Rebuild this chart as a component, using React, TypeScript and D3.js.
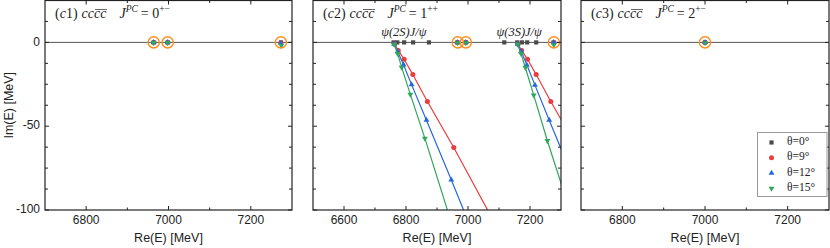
import { useEffect, useRef } from "react";
import * as d3 from "d3";

type Pt = [number, number];

// ── Legend / series styling keys ───────────────────────────────
const thetaLabels = ["θ=0°", "θ=9°", "θ=12°", "θ=15°"];
const thetaColors = ["#4a4a4a", "#ee3b3b", "#2468de", "#2fa65a"];
const thetaShapes = ["square", "circle", "triangle", "triangleDown"];

// ── Panel headers ──────────────────────────────────────────────
const panelTags = ["c1", "c2", "c3"];
const panelJ = ["0", "1", "2"];
const panelPC = ["+−", "++", "+−"];
const panelXDomains: [number, number][] = [[6700, 7300], [6500, 7300], [6700, 7300]];
const panelXTicks = [[6800, 7000, 7200], [6600, 6800, 7000, 7200], [6800, 7000, 7200]];
const yTickLabels = [0, -50, -100];

// ── (c1) 0^{+-} ────────────────────────────────────────────────
const c1Theta0: Pt[] = [[6964, 0], [6998, 0], [7273, 0]];
const c1Theta9: Pt[] = [[6964, 0], [6998, 0], [7273, -0.3]];
const c1Theta12: Pt[] = [[6964, 0], [6998, 0], [7273, -0.6]];
const c1Theta15: Pt[] = [[6964, -0.2], [6998, -0.2], [7274, -1.8]];
const c1Bound = [6964, 6998, 7273];

// ── (c2) 1^{++} ────────────────────────────────────────────────
const c2Theta0: Pt[] = [
  [6760, 0], [6772, 0], [6794, 0], [6823, 0], [6874, 0], [6966, 0], [6993, 0],
  [7117, 0], [7159, 0], [7174, 0], [7191, 0], [7220, 0], [7276, 0],
];
const c2Bound9: Pt[] = [[6966, 0], [6993, 0], [7277, 0]];
const c2Theta9A: Pt[] = [[6763, -1], [6775, -4.8], [6794, -10.1], [6822, -19.2], [6869, -35.3], [6954, -62.7], [7075, -104]];
const c2Theta9B: Pt[] = [[7161, -1], [7173, -4.8], [7192, -10.1], [7220, -19.2], [7267, -35.3], [7352, -62.7]];
const c2Bound12: Pt[] = [[6966, 0], [6993, 0], [7277, 0]];
const c2Theta12A: Pt[] = [[6762, -1], [6773, -5.5], [6792, -13.3], [6818, -25.2], [6866, -46.4], [6946, -82], [7061, -134]];
const c2Theta12B: Pt[] = [[7160, -1], [7172, -5.5], [7190, -13.5], [7216, -25.5], [7262, -46.4], [7344, -83]];
const c2Bound15: Pt[] = [[6966, -0.3], [6993, -0.3], [7277, -1.5]];
const c2Theta15A: Pt[] = [[6762, -1.2], [6773, -6.7], [6786, -14.9], [6814, -31], [6861, -57.3], [6937, -102]];
const c2Theta15B: Pt[] = [[7160, -1.2], [7171, -6.7], [7185, -15], [7212, -31.5], [7256, -58.7], [7335, -104]];
const c2Bound = [6967, 6993, 7277];
const c2ThresholdLabelRe = [6793, 7165];
const c2ThresholdLabels = ["ψ(2S)J/ψ", "ψ(3S)J/ψ"];

// ── (c3) 2^{+-} ────────────────────────────────────────────────
const c3Theta0: Pt[] = [[7000, 0]];
const c3Theta9: Pt[] = [[7000, 0]];
const c3Theta12: Pt[] = [[7000, 0]];
const c3Theta15: Pt[] = [[7000, -0.3]];
const c3Bound = [7000];

type Series = { points: Pt[]; lines: Pt[][] };

const panelSeries: Series[][] = [
  [
    { points: c1Theta0, lines: [] },
    { points: c1Theta9, lines: [] },
    { points: c1Theta12, lines: [] },
    { points: c1Theta15, lines: [] },
  ],
  [
    { points: c2Theta0, lines: [] },
    { points: [...c2Bound9, ...c2Theta9A, ...c2Theta9B], lines: [c2Theta9A, c2Theta9B] },
    { points: [...c2Bound12, ...c2Theta12A, ...c2Theta12B], lines: [c2Theta12A, c2Theta12B] },
    { points: [...c2Bound15, ...c2Theta15A, ...c2Theta15B], lines: [c2Theta15A, c2Theta15B] },
  ],
  [
    { points: c3Theta0, lines: [] },
    { points: c3Theta9, lines: [] },
    { points: c3Theta12, lines: [] },
    { points: c3Theta15, lines: [] },
  ],
];
const panelBound = [c1Bound, c2Bound, c3Bound];

export default function App() {
  const svgRef = useRef<SVGSVGElement>(null);

  useEffect(() => {
    if (!svgRef.current) return;
    const svg = d3.select(svgRef.current);
    svg.selectAll("*").remove();

    // ── Layout ──────────────────────────────────────────────────
    const lefts = [45, 313, 581];
    const rights = [292, 561, 829];
    const top = 0.5;
    const bottom = 210;
    const sans = "'Liberation Sans', Arial, sans-serif";
    const serif = "'Liberation Serif', 'Times New Roman', serif";

    const yScale = d3.scaleLinear().domain([-100, 25]).range([bottom, top]);

    const drawMarker = (
      g: d3.Selection<SVGGElement, unknown, null, undefined>,
      shape: string, x: number, y: number, color: string
    ) => {
      if (shape === "square") {
        g.append("rect").attr("x", x - 2.1).attr("y", y - 2.1)
          .attr("width", 4.2).attr("height", 4.2).attr("fill", color);
      } else if (shape === "circle") {
        g.append("circle").attr("cx", x).attr("cy", y).attr("r", 2.5).attr("fill", color);
      } else {
        const sym = d3.symbol().type(d3.symbolTriangle).size(15)();
        g.append("path").attr("d", sym)
          .attr("transform", `translate(${x},${y})${shape === "triangleDown" ? " rotate(180)" : ""}`)
          .attr("fill", color);
      }
    };

    panelSeries.forEach((series, pi) => {
      const left = lefts[pi];
      const right = rights[pi];
      const [x0, x1] = panelXDomains[pi];
      const xScale = d3.scaleLinear().domain([x0, x1]).range([left, right]);
      const g = svg.append("g");

      const clipId = `clip-${pi}`;
      svg.append("clipPath").attr("id", clipId)
        .append("rect").attr("x", left).attr("y", top)
        .attr("width", right - left).attr("height", bottom - top);

      // zero line
      g.append("line")
        .attr("x1", left).attr("x2", right)
        .attr("y1", yScale(0)).attr("y2", yScale(0))
        .attr("stroke", "#555").attr("stroke-width", 1);

      // series
      const plot = g.append("g");
      const lineGen = d3.line<Pt>().x((d) => xScale(d[0])).y((d) => yScale(d[1]));
      series.forEach((s, ti) => {
        s.lines.forEach((ln) => {
          plot.append("path").attr("d", lineGen(ln))
            .attr("fill", "none").attr("stroke", thetaColors[ti])
            .attr("stroke-width", 1.2).attr("clip-path", `url(#${clipId})`);
        });
        s.points.forEach((p) => {
          if (p[0] < x0 || p[0] > x1 || p[1] < -100 || p[1] > 25) return;
          drawMarker(plot, thetaShapes[ti], xScale(p[0]), yScale(p[1]), thetaColors[ti]);
        });
      });

      // bound states
      panelBound[pi].forEach((re) => {
        g.append("circle").attr("cx", xScale(re)).attr("cy", yScale(0)).attr("r", 5.6)
          .attr("fill", "none").attr("stroke", "#ff8c1a").attr("stroke-width", 1.4);
      });

      // threshold labels
      if (pi === 1) {
        c2ThresholdLabelRe.forEach((re, i) => {
          g.append("text").attr("x", xScale(re)).attr("y", 36)
            .attr("text-anchor", "middle").attr("font-family", serif)
            .attr("font-style", "italic").attr("font-size", 12.5).attr("fill", "#222")
            .text(c2ThresholdLabels[i]);
        });
      }

      // frame
      g.append("rect").attr("x", left).attr("y", top)
        .attr("width", right - left).attr("height", bottom - top)
        .attr("fill", "none").attr("stroke", "#222").attr("stroke-width", 1.2);

      // x ticks (inward, top & bottom)
      const xMajor = panelXTicks[pi];
      const xMinor = d3.range(x0 + 100, x1, 100).filter((v) => !xMajor.includes(v));
      const xt = (v: number, len: number) => {
        const x = xScale(v);
        g.append("line").attr("x1", x).attr("x2", x).attr("y1", bottom).attr("y2", bottom - len)
          .attr("stroke", "#222").attr("stroke-width", 1);
        g.append("line").attr("x1", x).attr("x2", x).attr("y1", top).attr("y2", top + len)
          .attr("stroke", "#222").attr("stroke-width", 1);
      };
      xMajor.forEach((v) => xt(v, 4));
      xMinor.forEach((v) => xt(v, 2.5));
      xMajor.forEach((v) => {
        g.append("text").attr("x", xScale(v)).attr("y", 221)
          .attr("text-anchor", "middle").attr("dominant-baseline", "middle")
          .attr("font-family", sans).attr("font-size", 12).attr("fill", "#222")
          .text(v);
      });

      // y ticks (inward, left & right)
      d3.range(-100, 25, 12.5).forEach((v) => {
        const y = yScale(v);
        const len = yTickLabels.includes(v) ? 4 : 3;
        g.append("line").attr("x1", left).attr("x2", left + len).attr("y1", y).attr("y2", y)
          .attr("stroke", "#222").attr("stroke-width", 1);
        g.append("line").attr("x1", right).attr("x2", right - len).attr("y1", y).attr("y2", y)
          .attr("stroke", "#222").attr("stroke-width", 1);
      });
      if (pi === 0) {
        yTickLabels.forEach((v) => {
          g.append("text").attr("x", left - 5).attr("y", yScale(v))
            .attr("text-anchor", "end").attr("dominant-baseline", "middle")
            .attr("font-family", sans).attr("font-size", 12).attr("fill", "#222")
            .text(v);
        });
        g.append("text")
          .attr("transform", `translate(10,${(top + bottom) / 2}) rotate(-90)`)
          .attr("text-anchor", "middle").attr("dominant-baseline", "middle")
          .attr("font-family", sans).attr("font-size", 12.5).attr("fill", "#222")
          .text("Im(E) [MeV]");
      }

      // x axis title
      g.append("text").attr("x", (left + right) / 2).attr("y", 239)
        .attr("text-anchor", "middle").attr("dominant-baseline", "middle")
        .attr("font-family", sans).attr("font-size", 12.5).attr("fill", "#222")
        .text("Re(E) [MeV]");

      // panel header
      const t = g.append("text").attr("x", left + 10).attr("y", 18)
        .attr("font-family", serif).attr("font-size", 14).attr("fill", "#222");
      t.append("tspan").text("(");
      t.append("tspan").attr("font-style", "italic").text("c");
      t.append("tspan").text(panelTags[pi].slice(1) + ")");
      t.append("tspan").attr("dx", 4).attr("font-style", "italic").text("cccc");
      t.append("tspan").attr("dx", 13).attr("font-style", "italic").text("J");
      t.append("tspan").attr("dy", -6).attr("font-size", 9.5).attr("font-style", "italic").text("PC");
      t.append("tspan").attr("dy", 6).attr("dx", 3).text("= " + panelJ[pi]);
      t.append("tspan").attr("dy", -6).attr("font-size", 9.5).text(panelPC[pi]);
      const tn = t.node() as SVGTextElement;
      const startIdx = 6; // third "c" of "(c1)cccc"
      const cStart = tn.getStartPositionOfChar(startIdx).x;
      const cEnd = tn.getEndPositionOfChar(startIdx + 1).x;
      g.append("line").attr("x1", cStart + 1).attr("x2", cEnd + 0.5)
        .attr("y1", 9.5).attr("y2", 9.5).attr("stroke", "#222").attr("stroke-width", 0.7);
    });

    // ── Legend ──────────────────────────────────────────────────
    const lg = svg.append("g");
    lg.append("rect").attr("x", 757.5).attr("y", 132.5).attr("width", 69.5).attr("height", 64)
      .attr("fill", "white").attr("stroke", "#999").attr("stroke-width", 1);
    thetaLabels.forEach((lab, i) => {
      const y = 142.5 + i * 15.3;
      drawMarker(lg, thetaShapes[i], 771.5, y, thetaColors[i]);
      lg.append("text").attr("x", 787).attr("y", y).attr("dominant-baseline", "middle")
        .attr("font-family", serif).attr("font-size", 11.5).attr("fill", "#222").text(lab);
    });
  }, []);

  return (
    <svg
      ref={svgRef}
      width={830}
      height={248}
      style={{ position: "absolute", left: 0, top: 0, background: "white" }}
    />
  );
}
